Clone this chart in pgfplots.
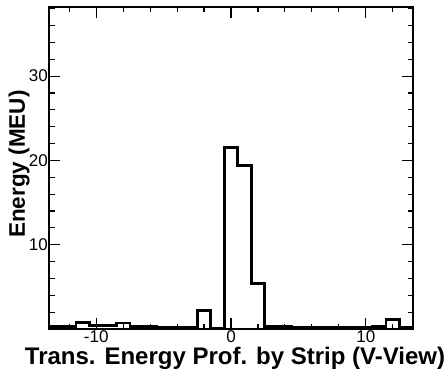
\documentclass[border=0pt]{standalone}
\usepackage{fontspec}
\setmainfont{Liberation Sans}
\usepackage{pgfplots}
\pgfplotsset{compat=1.18}
\pgfplotstableread{
x y
-13.5 0.3
-12.5 0.3
-11.5 0.8
-10.5 0.45
-9.5 0.4
-8.5 0.7
-7.5 0.3
-6.5 0.3
-5.5 0.25
-4.5 0.2
-3.5 0.2
-2.5 2.2
-1.5 0.1
-0.5 21.5
0.5 19.4
1.5 5.4
2.5 0.3
3.5 0.3
4.5 0.25
5.5 0.2
6.5 0.2
7.5 0.2
8.5 0.2
9.5 0.25
10.5 0.3
11.5 1.1
12.5 0.2
13.5 0.2
}\histdata
\usepackage{pgfplotstable}
\begin{document}
\begin{tikzpicture}
\begin{axis}[
  scale only axis, width=364pt, height=322pt,
  xmin=-13.5, xmax=13.5, ymin=0, ymax=38.2,
  xtick={-10,0,10}, xticklabels={-10,0,10},
  minor xtick={-12,-8,-6,-4,-2,2,4,6,8,12},
  ytick={10,20,30}, yticklabels={10,20,30},
  minor ytick={2,4,6,8,12,14,16,18,22,24,26,28,32,34,36,38},
  xtick pos=both, ytick pos=both,
  tick align=inside,
  major tick length=11pt, minor tick length=5.5pt,
  axis line style={line width=1.6pt},
  every tick/.style={line width=1.1pt, black},
  ticklabel style={font=\fontsize{17}{17}\selectfont, inner sep=1pt},
  /pgf/number format/assume math mode=true,
  xlabel={\bfseries Trans. Energy Prof. by Strip (V-View)},
  xlabel style={at={(axis description cs:0.511,-0.1087)}, anchor=base, font=\fontsize{24}{24}\selectfont, inner sep=0pt},
  ylabel={\bfseries Energy (MEU)},
  ylabel style={at={(axis description cs:-0.066,0.512)}, anchor=base, font=\fontsize{22.5}{23}\selectfont, inner sep=0pt},
]
\addplot[const plot, line width=2.6pt, black] table[x=x,y=y] {\histdata};
\coordinate (bl) at (rel axis cs:0,0);
\coordinate (tr) at (rel axis cs:1,1);
\end{axis}
\pgfresetboundingbox
\path ([xshift=-49pt,yshift=-40pt]bl) rectangle ([xshift=33pt,yshift=7pt]tr);
\end{tikzpicture}
\end{document}
